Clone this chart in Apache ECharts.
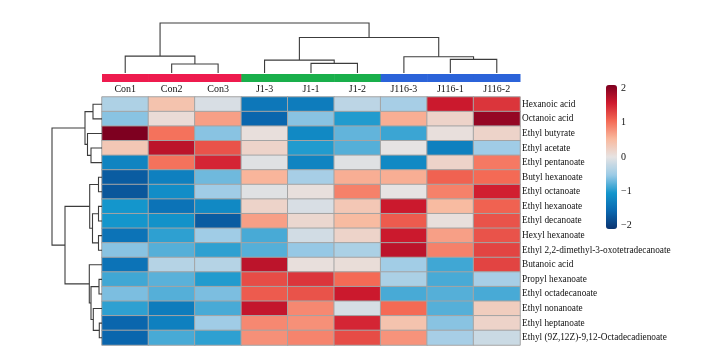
<!DOCTYPE html>
<html>
<head>
<meta charset="utf-8">
<script src="https://cdn.jsdelivr.net/npm/echarts@6/dist/echarts.min.js"></script>
<style>html,body{margin:0;padding:0;background:#fff;}#c{width:708px;height:361px;}</style>
</head>
<body>
<div id="c"></div>
<script>
// ---- data ----
const colNames = ['Con1','Con2','Con3','J1-3','J1-1','J1-2','J116-3','J116-1','J116-2'];
const colGroup = [0,0,0,1,1,1,2,2,2];
const groupNames = ['Con','J1','J116'];
const groupColors = ['#EE1B4E','#19AF4B','#2B63D9'];
const rowNames = ['Hexanoic acid','Octanoic acid','Ethyl butyrate','Ethyl acetate','Ethyl pentanoate',
  'Butyl hexanoate','Ethyl octanoate','Ethyl hexanoate','Ethyl decanoate','Hexyl hexanoate',
  'Ethyl 2,2-dimethyl-3-oxotetradecanoate','Butanoic acid','Propyl hexanoate','Ethyl octadecanoate',
  'Ethyl nonanoate','Ethyl heptanoate','Ethyl (9Z,12Z)-9,12-Octadecadienoate'];
// z-scores, rows in rowNames order, columns in colNames order
const zValues = [
  [-0.40, 0.40,-0.10,-1.40,-1.35,-0.30,-0.45, 1.60, 1.40],
  [-0.60, 0.10, 0.70,-1.60,-0.60,-1.00, 0.60, 0.20, 1.95],
  [ 2.10, 1.00,-0.60, 0.05,-1.20,-0.75,-0.90, 0.05, 0.20],
  [ 0.35, 1.70, 1.20, 0.20,-1.00,-0.80, 0.00,-1.30,-0.50],
  [-1.25, 1.00, 1.50,-0.05,-1.25,-0.05,-1.20, 0.20, 0.95],
  [-1.70,-1.30,-0.70, 0.55,-0.45, 0.60, 0.60, 1.10, 1.05],
  [-1.75,-1.15,-0.50,-0.05, 0.05, 0.90, 0.00, 0.90, 1.55],
  [-1.05,-1.45,-1.20, 0.20,-0.10, 0.35, 1.60, 0.50, 1.10],
  [-1.05,-1.10,-1.70, 0.70, 0.15, 0.50, 1.15, 0.05, 1.20],
  [-1.45,-0.95,-0.50,-0.85,-0.15, 0.20, 1.60, 0.70, 1.20],
  [-0.60,-0.80,-0.95,-0.80,-0.55,-0.42, 1.70, 0.90, 1.30],
  [-1.45,-0.35,-0.35, 1.70, 0.05, 0.08,-0.48,-0.88, 1.30],
  [-0.88,-0.78,-1.00, 1.25, 1.40, 1.05,-0.42,-0.85,-0.45],
  [-0.65,-0.80,-0.65, 1.15, 1.20, 1.60,-0.85,-0.80,-0.85],
  [-0.95,-1.35,-0.85, 1.65, 0.85,-0.12, 1.05,-0.80, 0.28],
  [-1.60,-1.30,-0.50, 0.85, 0.80, 1.50, 0.40,-0.60, 0.20],
  [-1.60,-0.85,-0.95, 0.80, 0.88, 1.25, 0.78,-0.45,-0.20]
];
// linkage: [childA, childB, height]; leaves 0..n-1, merge k creates node n+k
const colLinkage = [
  [1,2,1.8],[4,5,1.94],[7,8,2.74],[0,9,3.4],[3,10,2.6],[6,11,3.26],[13,14,7.14],[12,15,10.06]
];
const rowLinkage = [
  [0,1,9.0],[3,4,11.0],[2,18,14.5],[17,19,17.0],
  [5,6,3.5],[7,8,3.5],[9,10,3.5],[22,23,9.5],[21,24,12.3],
  [12,13,3.0],[15,16,2.7],[14,27,8.7],[26,28,11.0],[11,29,12.7],
  [25,30,37.0],[20,31,50.0]
];
const colorTicks = [-2,-1,0,1,2];
const colorStops = ['#0b3470','#0a68b0','#1496cc','#9ccbe6','#e6e3e3','#f9b99e','#f46a55','#cf1a2e','#7e0020'];
const zMin = -2.1, zMax = 2.1;

// ---- build ----
function buildSegments(linkage, nLeaves, orient){
  const pos = [], hgt = [];
  for (let i=0;i<nLeaves;i++){pos[i]=i;hgt[i]=0;}
  const segs = [];
  linkage.forEach(([a,b,h],k)=>{
    const id = nLeaves+k;
    pos[id] = (pos[a]+pos[b])/2; hgt[id] = h;
    const pts = [[pos[a],hgt[a]],[pos[a],h],[pos[b],h],[pos[b],hgt[b]]];
    segs.push(pts.flatMap(p => orient==='col' ? p : [p[1],p[0]]));
  });
  return segs;
}
const colSegs = buildSegments(colLinkage, colNames.length, 'col');
const rowSegs = buildSegments(rowLinkage, rowNames.length, 'row');
const colMaxH = Math.max(...colLinkage.map(d=>d[2]));
const rowMaxH = Math.max(...rowLinkage.map(d=>d[2]));

const heatData = [];
zValues.forEach((r,ri)=>r.forEach((v,ci)=>heatData.push([ci,ri,v])));

function dendroRender(params, api){
  const pts = [];
  for (let k=0;k<4;k++) pts.push(api.coord([api.value(2*k), api.value(2*k+1)]));
  return {type:'polyline', shape:{points:pts}, style:{stroke:'#3c3c3c', lineWidth:1.1, fill:null}};
}

const serif = 'Liberation Serif';
const chart = echarts.init(document.getElementById('c'));
chart.setOption({
  backgroundColor:'#fff',
  animation:false,
  grid:[
    {left:102, top:97, width:418, height:248},
    {left:102, top:23, width:418, height:50},
    {left:102, top:74, width:418, height:8},
    {left:52, top:97, width:50, height:248},
    {left:606, top:88.4, width:11, height:137.2}
  ],
  xAxis:[
    {gridIndex:0, type:'category', data:colNames, position:'top',
      axisLine:{show:false}, axisTick:{show:false}, splitLine:{show:false},
      axisLabel:{margin:3, fontFamily:serif, fontSize:10, color:'#111'}},
    {gridIndex:1, type:'value', min:-0.5, max:colNames.length-0.5, show:false},
    {gridIndex:2, type:'value', min:-0.5, max:colNames.length-0.5, show:false},
    {gridIndex:3, type:'value', min:0, max:rowMaxH, inverse:true, show:false},
    {gridIndex:4, type:'value', show:false}
  ],
  yAxis:[
    {gridIndex:0, type:'category', data:rowNames, inverse:true, position:'right',
      axisLine:{show:false}, axisTick:{show:false}, splitLine:{show:false},
      axisLabel:{margin:2, fontFamily:serif, fontSize:9.3, color:'#111'}},
    {gridIndex:1, type:'value', min:0, max:colMaxH, show:false},
    {gridIndex:2, type:'value', min:0, max:1, show:false},
    {gridIndex:3, type:'value', min:-0.5, max:rowNames.length-0.5, inverse:true, show:false},
    {gridIndex:4, type:'value', min:colorTicks[0], max:colorTicks[colorTicks.length-1], interval:1, position:'right',
      axisLine:{show:false}, axisTick:{show:false}, splitLine:{show:false},
      axisLabel:{margin:4, fontFamily:serif, fontSize:10, color:'#111',
        formatter:v=>String(v).replace('-','\u2212')}}
  ],
  visualMap:{
    type:'continuous', seriesIndex:0, min:zMin, max:zMax, show:true,
    left:606, top:85, itemWidth:11, itemHeight:144, padding:0,
    calculable:false, text:null, inRange:{color:colorStops}, hoverLink:false
  },
  series:[
    {type:'heatmap', xAxisIndex:0, yAxisIndex:0, data:heatData,
      itemStyle:{borderColor:'#a4a4a4', borderWidth:1}, emphasis:{disabled:true}},
    {type:'custom', xAxisIndex:1, yAxisIndex:1, data:colSegs, renderItem:dendroRender, clip:false, silent:true},
    {type:'custom', xAxisIndex:3, yAxisIndex:3, data:rowSegs, renderItem:dendroRender, clip:false, silent:true},
    {type:'custom', xAxisIndex:2, yAxisIndex:2, data:colGroup.map((g,i)=>[i,g]), clip:false, silent:true,
      renderItem:(params, api)=>{
        const i = api.value(0), g = api.value(1);
        const p0 = api.coord([i-0.5, 1]), p1 = api.coord([i+0.5, 0]);
        return {type:'rect', shape:{x:p0[0], y:p0[1], width:p1[0]-p0[0]+0.5, height:p1[1]-p0[1]},
          style:{fill:groupColors[g]}};
      }}
  ]
});
</script>
</body>
</html>
